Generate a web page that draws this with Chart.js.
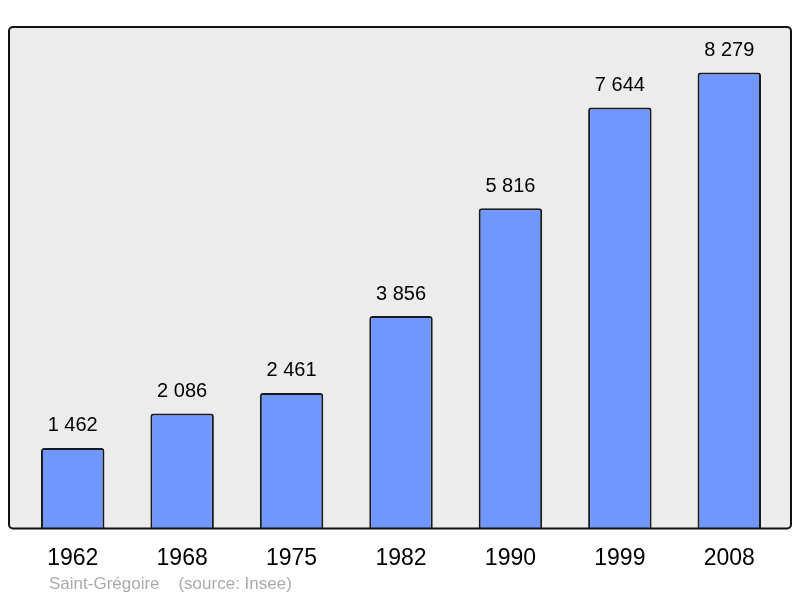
<!DOCTYPE html>
<html>
<head>
<meta charset="utf-8">
<script src="https://cdn.jsdelivr.net/npm/chart.js@4"></script>
<style>
  html, body { margin: 0; padding: 0; background: #fff; }
  #wrap { width: 800px; height: 598px; }
</style>
</head>
<body>
<div id="wrap"><canvas id="popChart"></canvas></div>
<script>
const YEARS = ["1962", "1968", "1975", "1982", "1990", "1999", "2008"];
const POPULATION = [1462, 2086, 2461, 3856, 5816, 7644, 8279];
const VALUE_LABELS = ["1 462", "2 086", "2 461", "3 856", "5 816", "7 644", "8 279"];
const FOOTER = "Saint-Grégoire    (source: Insee)";

const FONT = "'Liberation Sans', Arial, sans-serif";

// grey frame behind bars, extends a bit past the category area
const framePlugin = {
    id: 'frame',
    beforeDatasetsDraw(chart) {
        const { ctx, chartArea } = chart;
        const x = chartArea.left - 9, y = chartArea.top;
        const w = chartArea.right - chartArea.left + 16, h = chartArea.bottom - chartArea.top;
        ctx.save();
        ctx.beginPath();
        ctx.roundRect(x, y, w, h, 4);
        ctx.fillStyle = '#ececec';
        ctx.fill();
        ctx.restore();
    },
    afterDatasetsDraw(chart) {
        const { ctx, chartArea } = chart;
        const x = chartArea.left - 9, y = chartArea.top;
        const w = chartArea.right - chartArea.left + 16, h = chartArea.bottom - chartArea.top;
        ctx.save();
        ctx.beginPath();
        ctx.roundRect(x, y, w, h, 4);
        ctx.lineWidth = 2;
        ctx.strokeStyle = '#111';
        ctx.stroke();

        // value labels above the bars
        const meta = chart.getDatasetMeta(0);
        ctx.font = "20px " + FONT;
        ctx.fillStyle = '#000';
        ctx.textAlign = 'center';
        ctx.textBaseline = 'middle';
        meta.data.forEach((bar, i) => {
            ctx.fillText(VALUE_LABELS[i], bar.x, bar.y - 22);
        });

        // footer
        ctx.font = "17px " + FONT;
        ctx.fillStyle = '#aaaaaa';
        ctx.textAlign = 'left';
        ctx.fillText(FOOTER, 49, 584);
        ctx.restore();
    }
};

const canvas = document.getElementById('popChart');
const chart = new Chart(canvas.getContext('2d'), {
    type: 'bar',
    data: {
        labels: YEARS,
        datasets: [{
            data: POPULATION,
            backgroundColor: '#7097ff',
            borderColor: '#1a1a1a',
            borderWidth: 2,
            borderRadius: 3,
            borderSkipped: 'bottom',
            barPercentage: 0.58,
            categoryPercentage: 1
        }]
    },
    options: {
        responsive: true,
        maintainAspectRatio: false,
        animation: false,
        layout: { padding: { left: 18, right: 16, top: 27, bottom: 10 } },
        plugins: {
            legend: { display: false },
            tooltip: { enabled: false }
        },
        scales: {
            x: {
                grid: { display: false, drawTicks: false },
                border: { display: false },
                ticks: {
                    padding: 16,
                    color: '#000',
                    font: { family: FONT, size: 23 }
                }
            },
            y: {
                display: false,
                min: 0,
                max: Math.max(...POPULATION) * 1.1
            }
        }
    },
    plugins: [framePlugin]
});
</script>
</body>
</html>
